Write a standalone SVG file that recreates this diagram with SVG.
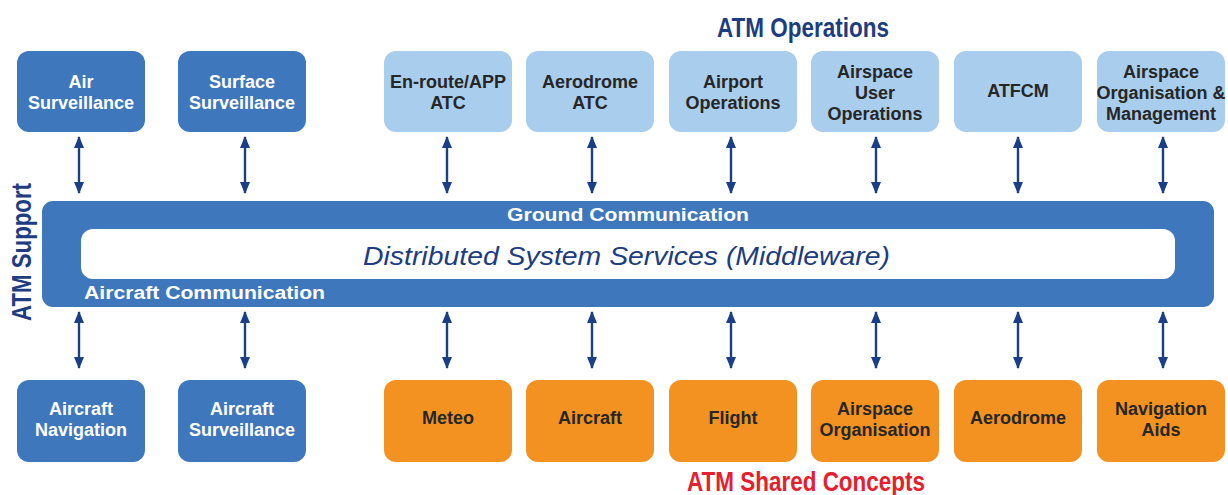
<svg xmlns="http://www.w3.org/2000/svg" width="1228" height="495" viewBox="0 0 1228 495">
<defs>
<marker id="ah" viewBox="0 0 12 10" refX="11" refY="5" markerWidth="12" markerHeight="11" markerUnits="userSpaceOnUse" orient="auto-start-reverse">
<path d="M0,0 L12,5 L0,10 z" fill="#1b3f86"/>
</marker>
<style>
.dk{fill:#3e77bc}
.lt{fill:#a9cdec}
.or{fill:#f39221}
.lbl{font-family:"Liberation Sans",Arial,sans-serif;font-weight:bold;font-size:18px;text-anchor:middle}
.w{fill:#ffffff}
.b{fill:#262626}
.hdr{font-family:"Liberation Sans Narrow","Liberation Sans",Arial,sans-serif;font-weight:bold;font-size:28px}
.arr{stroke:#1b3f86;stroke-width:2.4;fill:none;marker-start:url(#ah);marker-end:url(#ah)}
</style>
</defs>
<rect width="1228" height="495" fill="#ffffff"/>

<text class="hdr" x="717" y="37" fill="#1d3d80" textLength="172" lengthAdjust="spacingAndGlyphs">ATM Operations</text>
<text class="hdr" x="687" y="491" fill="#e5202e" textLength="238" lengthAdjust="spacingAndGlyphs">ATM Shared Concepts</text>
<text class="hdr" transform="translate(31,321) rotate(-90)" x="0" y="0" fill="#1d3d80" font-size="26" textLength="138" lengthAdjust="spacingAndGlyphs">ATM Support</text>

<g id="middleware">
<rect x="42" y="201" width="1172" height="106" rx="11" class="dk"/>
<rect x="81" y="229" width="1094" height="50" rx="12" fill="#ffffff"/>
<text x="628" y="221" class="lbl w" textLength="242" lengthAdjust="spacingAndGlyphs">Ground Communication</text>
<text x="84" y="299" class="lbl w" style="text-anchor:start" textLength="241" lengthAdjust="spacingAndGlyphs">Aircraft Communication</text>
<text x="363" y="265" font-family="Liberation Sans,Arial,sans-serif" font-style="italic" font-size="26" fill="#1d3d80" textLength="527" lengthAdjust="spacingAndGlyphs">Distributed System Services (Middleware)</text>
</g>

<g id="air-surveillance"><rect x="17" y="51" width="128" height="81" rx="12" class="dk"/><text class="lbl w" x="81" y="88">Air</text><text class="lbl w" x="81" y="109">Surveillance</text></g>
<g id="surface-surveillance"><rect x="178" y="51" width="128" height="81" rx="12" class="dk"/><text class="lbl w" x="242" y="88">Surface</text><text class="lbl w" x="242" y="109">Surveillance</text></g>
<g id="enroute-atc"><rect x="384" y="51" width="128" height="81" rx="12" class="lt"/><text class="lbl b" x="448" y="88">En-route/APP</text><text class="lbl b" x="448" y="109">ATC</text></g>
<g id="aerodrome-atc"><rect x="526" y="51" width="128" height="81" rx="12" class="lt"/><text class="lbl b" x="590" y="88">Aerodrome</text><text class="lbl b" x="590" y="109">ATC</text></g>
<g id="airport-operations"><rect x="669" y="51" width="128" height="81" rx="12" class="lt"/><text class="lbl b" x="733" y="88">Airport</text><text class="lbl b" x="733" y="109">Operations</text></g>
<g id="airspace-user-operations"><rect x="811" y="51" width="128" height="81" rx="12" class="lt"/><text class="lbl b" x="875" y="78">Airspace</text><text class="lbl b" x="875" y="99">User</text><text class="lbl b" x="875" y="120">Operations</text></g>
<g id="atfcm"><rect x="954" y="51" width="128" height="81" rx="12" class="lt"/><text class="lbl b" x="1018" y="97">ATFCM</text></g>
<g id="airspace-org-mgmt"><rect x="1097" y="51" width="128" height="81" rx="12" class="lt"/><text class="lbl b" x="1161" y="78">Airspace</text><text class="lbl b" x="1161" y="99">Organisation &amp;</text><text class="lbl b" x="1161" y="120">Management</text></g>

<g id="aircraft-navigation"><rect x="17" y="380" width="128" height="82" rx="12" class="dk"/><text class="lbl w" x="81" y="415">Aircraft</text><text class="lbl w" x="81" y="436">Navigation</text></g>
<g id="aircraft-surveillance"><rect x="178" y="380" width="128" height="82" rx="12" class="dk"/><text class="lbl w" x="242" y="415">Aircraft</text><text class="lbl w" x="242" y="436">Surveillance</text></g>
<g id="meteo"><rect x="384" y="380" width="128" height="82" rx="12" class="or"/><text class="lbl b" x="448" y="424">Meteo</text></g>
<g id="aircraft"><rect x="526" y="380" width="128" height="82" rx="12" class="or"/><text class="lbl b" x="590" y="424">Aircraft</text></g>
<g id="flight"><rect x="669" y="380" width="128" height="82" rx="12" class="or"/><text class="lbl b" x="733" y="424">Flight</text></g>
<g id="airspace-organisation"><rect x="811" y="380" width="128" height="82" rx="12" class="or"/><text class="lbl b" x="875" y="415">Airspace</text><text class="lbl b" x="875" y="436">Organisation</text></g>
<g id="aerodrome"><rect x="954" y="380" width="128" height="82" rx="12" class="or"/><text class="lbl b" x="1018" y="424">Aerodrome</text></g>
<g id="navigation-aids"><rect x="1097" y="380" width="128" height="82" rx="12" class="or"/><text class="lbl b" x="1161" y="415">Navigation</text><text class="lbl b" x="1161" y="436">Aids</text></g>

<g id="connectors">
<line class="arr" x1="79" y1="137" x2="79" y2="193"/>
<line class="arr" x1="245" y1="137" x2="245" y2="193"/>
<line class="arr" x1="447" y1="137" x2="447" y2="193"/>
<line class="arr" x1="592" y1="137" x2="592" y2="193"/>
<line class="arr" x1="731" y1="137" x2="731" y2="193"/>
<line class="arr" x1="876" y1="137" x2="876" y2="193"/>
<line class="arr" x1="1018" y1="137" x2="1018" y2="193"/>
<line class="arr" x1="1163" y1="137" x2="1163" y2="193"/>
<line class="arr" x1="79" y1="312" x2="79" y2="368"/>
<line class="arr" x1="245" y1="312" x2="245" y2="368"/>
<line class="arr" x1="447" y1="312" x2="447" y2="368"/>
<line class="arr" x1="592" y1="312" x2="592" y2="368"/>
<line class="arr" x1="731" y1="312" x2="731" y2="368"/>
<line class="arr" x1="876" y1="312" x2="876" y2="368"/>
<line class="arr" x1="1018" y1="312" x2="1018" y2="368"/>
<line class="arr" x1="1163" y1="312" x2="1163" y2="368"/>
</g>
</svg>
